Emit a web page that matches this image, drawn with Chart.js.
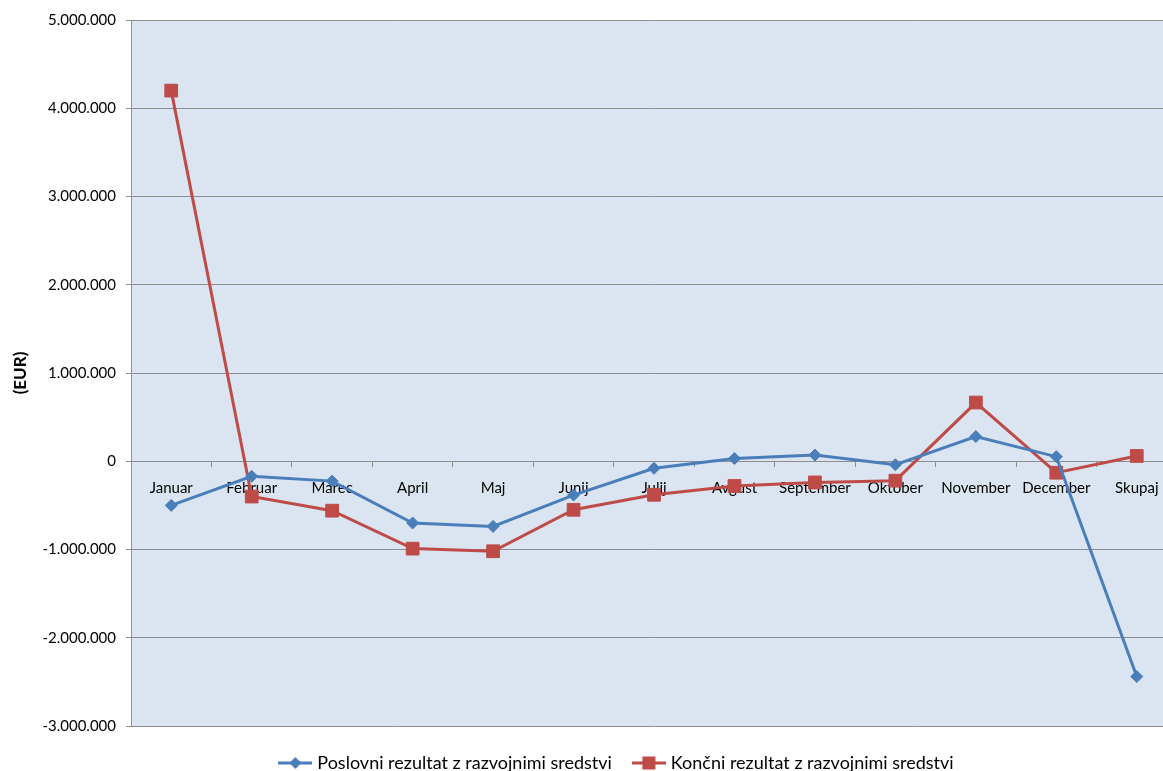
<!DOCTYPE html>
<html>
<head>
<meta charset="utf-8">
<script src="https://cdn.jsdelivr.net/npm/chart.js@4.4.1/dist/chart.umd.min.js"></script>
<style>
  html, body { margin: 0; padding: 0; background: #ffffff; overflow: hidden; }
  #wrap { width: 1163px; height: 771px; position: relative; overflow: hidden; }
  #c { display: block; }
</style>
</head>
<body>
<div id="wrap"><canvas id="c" width="1177" height="771"></canvas></div>
<script>
const categories = ['Januar', 'Februar', 'Marec', 'April', 'Maj', 'Junij', 'Julij', 'Avgust', 'September', 'Oktober', 'November', 'December', 'Skupaj'];
const poslovniRezultat = [-500000, -170000, -225000, -700000, -738000, -383000, -80000, 30000, 70000, -40000, 280000, 52000, -2440000];
const koncniRezultat = [4200000, -400000, -560000, -990000, -1020000, -550000, -380000, -280000, -240000, -220000, 665000, -130000, 60000];
const seriesNames = ['Poslovni rezultat z razvojnimi sredstvi', 'Končni rezultat z razvojnimi sredstvi'];
const yMin = -3000000, yMax = 5000000, yStep = 1000000;
const yTitle = '(EUR)';

const FONT = 'Lato, "Noto Sans", sans-serif';
const BLUE = '#4a7ebb';
const RED = '#be4b48';
const GRID = '#8e8e8e';

function fmt(v) {
  if (v === 0) return '0';
  const neg = v < 0;
  let s = String(Math.abs(Math.round(v)));
  s = s.replace(/\B(?=(\d{3})+(?!\d))/g, '.');
  return (neg ? '-' : '') + s;
}

function legendIcon(color, shape) {
  const cv = document.createElement('canvas');
  cv.width = 34; cv.height = 14;
  const g = cv.getContext('2d');
  g.strokeStyle = color; g.lineWidth = 3;
  g.beginPath(); g.moveTo(0, 7); g.lineTo(34, 7); g.stroke();
  g.fillStyle = color;
  if (shape === 'diamond') {
    g.beginPath(); g.moveTo(17, 1); g.lineTo(23, 7); g.lineTo(17, 13); g.lineTo(11, 7); g.closePath(); g.fill();
  } else {
    g.fillRect(10.5, 0.5, 13, 13);
  }
  return cv;
}
const icons = [legendIcon(BLUE, 'diamond'), legendIcon(RED, 'square')];

const bgPlugin = {
  id: 'plotBg',
  beforeDraw(chart) {
    const a = chart.chartArea, ctx = chart.ctx;
    ctx.save();
    ctx.fillStyle = '#dbe5f1';
    ctx.fillRect(a.left, a.top, a.right - a.left, a.bottom - a.top);
    ctx.restore();
  }
};
const legendShift = {
  id: 'legendShift',
  afterLayout(chart) {
    if (chart.legend) {
      const w = chart.legend.right - chart.legend.left;
      const shift = 618 - (chart.legend.left + w / 2);
      chart.legend.left += shift; chart.legend.right += shift;
    }
  }
};
function noPad(s) { s.paddingLeft = 0; s.paddingRight = 0; }

new Chart(document.getElementById('c'), {
  type: 'line',
  data: {
    labels: categories,
    datasets: [
      { label: seriesNames[0], data: poslovniRezultat, borderColor: BLUE, backgroundColor: BLUE,
        borderWidth: 3, pointStyle: 'rectRot', pointRadius: 6, pointHoverRadius: 6, pointBorderWidth: 1, tension: 0 },
      { label: seriesNames[1], data: koncniRezultat, borderColor: RED, backgroundColor: RED,
        borderWidth: 3, pointStyle: 'rect', pointRadius: 9, pointHoverRadius: 9, pointBorderWidth: 1, tension: 0 }
    ]
  },
  options: {
    responsive: false,
    animation: false,
    devicePixelRatio: 1,
    layout: { autoPadding: false, padding: { top: 20, left: 0, right: 0, bottom: -11 } },
    plugins: {
      tooltip: { enabled: false },
      legend: {
        position: 'bottom',
        labels: {
          usePointStyle: true,
          pointStyleWidth: 26,
          padding: 24,
          color: '#000',
          font: { family: FONT, size: 18 },
          generateLabels(chart) {
            return chart.data.datasets.map((ds, i) => ({
              text: ds.label, pointStyle: icons[i], fillStyle: ds.borderColor,
              strokeStyle: ds.borderColor, lineWidth: 0, hidden: false, datasetIndex: i, fontColor: '#000'
            }));
          }
        }
      }
    },
    scales: {
      x: {
        type: 'category',
        position: { y: 0 },
        offset: true,
        afterFit: noPad,
        grid: { offset: true, drawOnChartArea: false, drawTicks: true, tickLength: 5, color: GRID, tickColor: GRID },
        border: { display: true, color: GRID, width: 1 },
        ticks: { color: '#000', font: { family: FONT, size: 15 }, padding: 13, maxRotation: 0, autoSkip: false }
      },
      xb: {
        type: 'category',
        position: 'bottom',
        display: true,
        grid: { display: false, drawTicks: false },
        border: { display: false },
        ticks: { display: false },
        afterFit(s) { s.height = 4; noPad(s); }
      },
      y: {
        min: yMin, max: yMax,
        afterFit(s) { s.width = 131; },
        grid: { color: GRID, lineWidth: 1, tickLength: 5, tickColor: GRID },
        border: { display: true, color: GRID, width: 1 },
        ticks: { stepSize: yStep, callback: v => fmt(v), color: '#000', font: { family: FONT, size: 15 }, padding: 10 },
        title: { display: true, text: yTitle, color: '#000', font: { family: FONT, size: 17, weight: 'bold' }, padding: { top: 10, bottom: 0 } }
      }
    }
  },
  plugins: [bgPlugin, legendShift]
});
</script>
</body>
</html>
